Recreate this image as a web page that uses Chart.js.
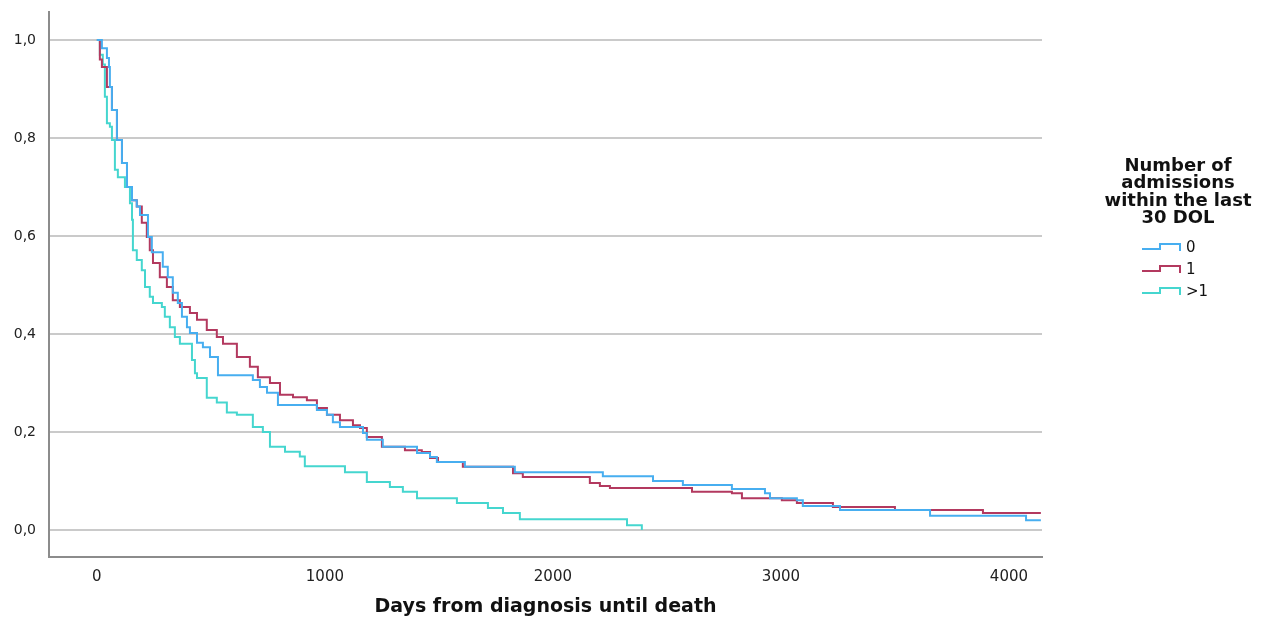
<!DOCTYPE html>
<html>
<head>
<meta charset="utf-8">
<script src="https://cdn.jsdelivr.net/npm/chart.js@4"></script>
<style>
  body { margin: 0; background: #fff; }
</style>
</head>
<body>
<canvas id="km-chart" width="1262" height="618"></canvas>
<script>
// SURVIVAL DATA (days / cumulative survival)
const groupLabels = ["0", "1", ">1"];
const groupColors = ["#47aef0", "#b3395f", "#45d6cf"];

const days0 = [0,22,44,53,57,66,88,110,132,154,175,189,224,241,289,311,333,355,373,395,408,439,465,496,531,684,715,746,794,965,1009,1035,1066,1167,1184,1254,1404,1461,1491,1614,1833,2219,2439,2570,2785,2930,2952,3070,3096,3259,3654,4075,4140];
const surv0 = [1,0.983,0.963,0.945,0.904,0.857,0.796,0.749,0.70,0.673,0.66,0.643,0.598,0.567,0.537,0.516,0.484,0.463,0.435,0.414,0.402,0.382,0.373,0.353,0.316,0.306,0.292,0.28,0.255,0.245,0.235,0.22,0.21,0.198,0.184,0.17,0.157,0.149,0.139,0.129,0.118,0.11,0.10,0.092,0.084,0.075,0.065,0.061,0.049,0.041,0.029,0.02,0.02];

const days1 = [0,13,22,44,66,88,110,132,154,175,197,219,232,246,276,307,333,364,408,439,482,526,553,614,671,706,759,803,860,921,965,1009,1066,1123,1154,1184,1250,1351,1425,1461,1496,1605,1825,1868,2162,2206,2250,2610,2785,2829,3004,3070,3228,3500,3886,4140];
const surv1 = [1,0.96,0.945,0.904,0.857,0.796,0.749,0.70,0.673,0.66,0.627,0.598,0.571,0.545,0.516,0.496,0.469,0.455,0.443,0.429,0.408,0.394,0.38,0.353,0.333,0.312,0.30,0.276,0.271,0.265,0.249,0.235,0.224,0.214,0.208,0.19,0.17,0.163,0.159,0.147,0.139,0.129,0.116,0.108,0.096,0.09,0.086,0.078,0.075,0.065,0.061,0.055,0.047,0.041,0.035,0.035];

const days2 = [0,13,26,35,44,57,66,79,92,123,145,154,158,175,197,211,232,246,285,298,320,342,364,417,430,439,482,526,570,614,684,728,759,825,890,912,1088,1184,1285,1342,1404,1579,1715,1781,1855,2325,2390];
const surv2 = [1,0.97,0.95,0.884,0.83,0.823,0.796,0.735,0.72,0.70,0.667,0.633,0.571,0.551,0.53,0.496,0.476,0.463,0.455,0.435,0.414,0.394,0.38,0.347,0.32,0.31,0.27,0.26,0.24,0.235,0.21,0.20,0.17,0.16,0.15,0.13,0.118,0.098,0.088,0.078,0.065,0.055,0.045,0.035,0.022,0.01,0.0];

const xTicks = [0, 1000, 2000, 3000, 4000];
const yTicks = [0, 0.2, 0.4, 0.6, 0.8, 1.0];
const legendTitle = ["Number of", "admissions", "within the last", "30 DOL"];

const toPoints = (d, s) => d.map((t, i) => ({ x: t, y: s[i] }));
const allDays = [days0, days1, days2];
const allSurv = [surv0, surv1, surv2];

const datasets = groupLabels.map((lab, i) => ({
    label: lab,
    data: toPoints(allDays[i], allSurv[i]),
    borderColor: groupColors[i],
    borderWidth: 2,
    pointRadius: 0,
    stepped: true,
    fill: false
}));

// legend drawn by hand, SPSS style step glyphs
const kmLegend = {
    id: "kmLegend",
    afterDraw(chart) {
        const ctx = chart.ctx;
        ctx.save();
        ctx.fillStyle = "#111";
        ctx.textAlign = "center";
        ctx.textBaseline = "middle";
        ctx.font = "bold 18px 'DejaVu Sans'";
        legendTitle.forEach((line, i) => ctx.fillText(line, 1178, 166 + i * 17.5));
        ctx.font = "15px 'DejaVu Sans'";
        ctx.textAlign = "left";
        chart.data.datasets.forEach((ds, i) => {
            const y = 248 + i * 22;
            ctx.strokeStyle = ds.borderColor;
            ctx.lineWidth = 2;
            ctx.beginPath();
            ctx.moveTo(1142, y + 1);
            ctx.lineTo(1160, y + 1);
            ctx.lineTo(1160, y - 4);
            ctx.lineTo(1180, y - 4);
            ctx.lineTo(1180, y + 3);
            ctx.stroke();
            ctx.fillText(ds.label, 1186, y);
        });
        ctx.restore();
    }
};

new Chart("km-chart", {
    type: "line",
    data: { datasets: datasets },
    plugins: [kmLegend],
    options: {
        responsive: false,
        animation: false,
        layout: { padding: { top: 12, right: 220, left: 0, bottom: 0 } },
        plugins: {
            legend: { display: false },
            tooltip: { enabled: false }
        },
        scales: {
            x: {
                type: "linear",
                min: -210,
                max: 4145,
                afterBuildTicks: (scale) => { scale.ticks = xTicks.map(v => ({ value: v })); },
                afterFit: (scale) => { scale.height = 61; },
                grid: { display: false },
                border: { color: "#8c8c8c", width: 2 },
                ticks: {
                    color: "#222",
                    font: { family: "'DejaVu Sans'", size: 15 },
                    maxRotation: 0,
                    padding: 3,
                    callback: (v) => String(v)
                },
                title: {
                    display: true,
                    text: "Days from diagnosis until death",
                    color: "#111",
                    font: { family: "'DejaVu Sans'", size: 19, weight: "bold" },
                    padding: 0
                }
            },
            y: {
                min: -0.055,
                max: 1.057,
                afterBuildTicks: (scale) => { scale.ticks = yTicks.map(v => ({ value: v })); },
                afterFit: (scale) => {
                    scale.width = 49;
                    scale.paddingTop = 0;
                    scale.paddingBottom = 0;
                },
                grid: { color: "#cacaca", lineWidth: 2, drawTicks: false },
                border: { color: "#8c8c8c", width: 2 },
                ticks: {
                    color: "#222",
                    font: { family: "'DejaVu Sans'", size: 14 },
                    padding: 13,
                    callback: (v) => Number(v).toFixed(1).replace(".", ",")
                }
            }
        }
    }
});
</script>
</body>
</html>
